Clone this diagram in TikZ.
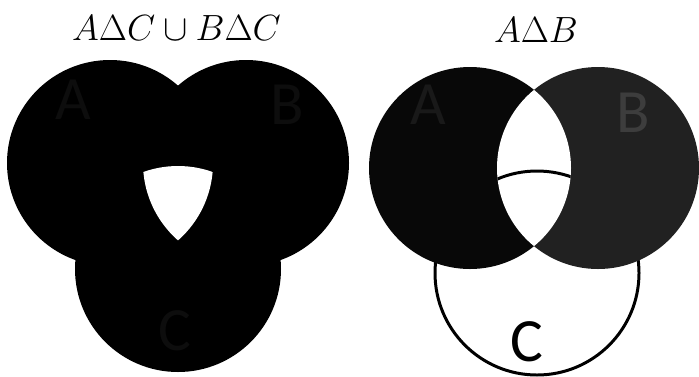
\documentclass[tikz,border=0pt]{standalone}
\usepackage{amsmath}
\usepackage{fontspec}
\newfontfamily\lblfont{Carlito}
\definecolor{vblack}{gray}{0.03}
\definecolor{vgray}{gray}{0.13}
\definecolor{vfaint}{gray}{0.05}
\definecolor{vfainta}{gray}{0.10}
\definecolor{vfaintb}{gray}{0.24}

\begin{document}
\begin{tikzpicture}[
  ttl/.style={font=\fontsize{21.5}{24}\selectfont,anchor=base},
  lbl/.style={font=\lblfont\fontsize{35}{40}\selectfont},
  ring/.style={draw=black,line width=1.7pt}]
\useasboundingbox (0,0) rectangle (13.98,7.52);
\def\rl{2.06}
\def\rr{2.02}

% ------------------------- left: A delta C u B delta C -------------------
\node[ttl] (t1) at (3.53,6.72) {$A\Delta C\cup B\Delta C$};
\coordinate (la) at (2.20,4.26);
\coordinate (lb) at (4.92,4.26);
\coordinate (lc) at (3.56,2.14);
\fill[black] (la) circle (\rl) (lb) circle (\rl) (lc) circle (\rl);
% the triple overlap stays empty
\begin{scope}
  \clip (la) circle (\rl);
  \clip (lb) circle (\rl);
  \fill[white] (lc) circle (\rl);
\end{scope}
\node[lbl,vfaint] (l1) at (1.46,5.52) {A};
\node[lbl,vfaint] (l2) at (5.74,5.42) {B};
\node[lbl,vfaint] (l3) at (3.50,0.90) {C};

% ------------------------------ right: A delta B -------------------------
\node[ttl] (t2) at (10.72,6.68) {$A\Delta B$};
\coordinate (ra) at (9.40,4.16);
\coordinate (rb) at (11.96,4.16);
\coordinate (rc) at (10.74,2.06);
\draw[ring,fill=white] (rc) circle (2.04);
\fill[vblack] (ra) circle (\rr);
\fill[vgray] (rb) circle (\rr);
\begin{scope}
  \clip (ra) circle (\rr);
  \fill[white] (rb) circle (\rr);
  \clip (rb) circle (\rr);
  \draw[ring] (rc) circle (2.04);
\end{scope}
\node[lbl,vfainta] (r1) at (8.56,5.42) {A};
\node[lbl,vfaintb] (r2) at (12.66,5.26) {B};
\node[lbl] (r3) at (10.54,0.68) {C};
\end{tikzpicture}
\end{document}
